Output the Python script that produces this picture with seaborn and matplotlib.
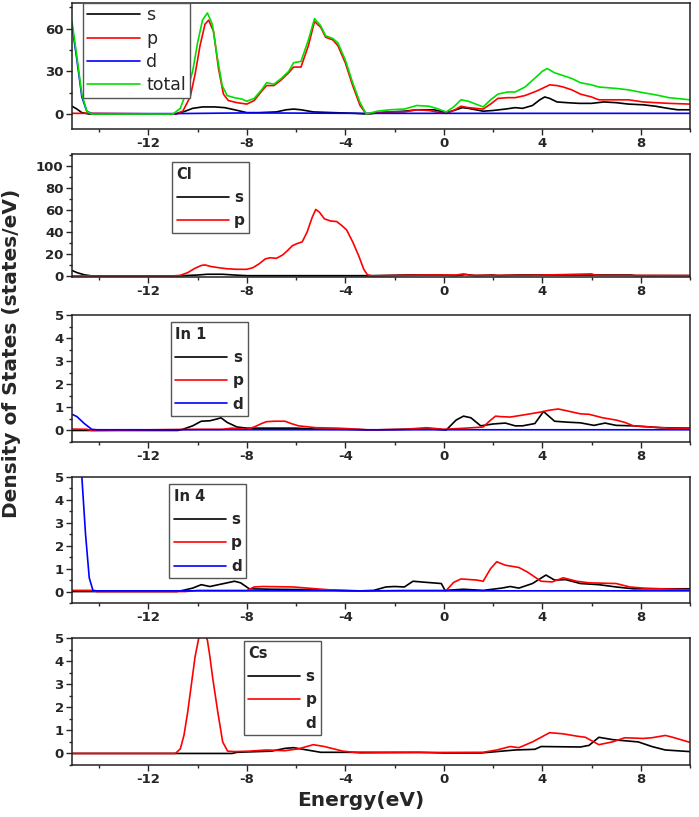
import numpy as np
import pandas as pd
import matplotlib
matplotlib.use('Agg')
import matplotlib.pyplot as plt
import seaborn as sns
from matplotlib.lines import Line2D
from matplotlib.ticker import MultipleLocator, AutoMinorLocator

# ---- data (energy in eV, DOS in states/eV) ----
# panel 1: total cell
s1_e = [-15.1, -14.9, -14.7, -14.4, -10.9, -10.5, -10.2, -9.8, -9.3, -8.9, -8.5, -8.0, -7.5, -6.8, -6.4, -6.1, -5.8, -5.3,
        -4.5, -3.6, -3.1, -2.6, -2.15, -1.6, -1.1, -0.4, 0.1, 0.5, 0.75, 1.0, 1.3, 1.6, 2.0, 2.5, 2.9, 3.2, 3.6, 3.9, 4.1,
        4.3, 4.6, 5.0, 5.5, 6.0, 6.5, 7.0, 7.5, 8.1, 8.6, 9.1, 9.5, 10.0]
s1_v = [5.5, 3.5, 1, 0, 0, 2, 4, 5, 5, 4.5, 3, 1, 1, 1.5, 3, 3.5, 3, 1.5,
        1, 0.5, 0, 1, 1.5, 2, 3, 3, 1, 3, 4.5, 4, 3, 2, 2.5, 3.5, 4.5, 4, 6, 10, 12,
        11, 8.5, 8, 7.5, 7.5, 8.5, 8, 7, 6.5, 5.5, 4, 3, 3]
p1_e = [-15.1, -14.3, -10.9, -10.6, -10.3, -10.1, -9.9, -9.7, -9.55, -9.35, -9.15, -8.95, -8.75, -8.4, -8.0, -7.7, -7.4,
        -7.2, -6.9, -6.6, -6.3, -6.1, -5.8, -5.5, -5.25, -5.0, -4.8, -4.5, -4.3, -4.0, -3.7, -3.4, -3.15, -2.7, -2.2, -1.6,
        -1.1, -0.6, -0.3, 0.1, 0.4, 0.7, 1.0, 1.3, 1.6, 1.9, 2.2, 2.6, 2.9, 3.3, 3.75, 4.0, 4.3, 4.6, 4.85, 5.2, 5.55,
        6.0, 6.3, 7.0, 7.5, 8.1, 8.6, 9.15, 10.0]
p1_v = [0.5, 0.5, 0, 2, 12, 28, 48, 63, 66, 58, 32, 14, 9.5, 8, 7, 9.5, 16,
        20, 20, 24, 29, 33, 33, 48, 65, 61, 54, 52, 48, 36, 20, 6, 0, 1, 1.5, 1.5,
        3, 2.5, 1.5, 0.5, 2.5, 5.5, 4.5, 4, 3.5, 7, 11, 11.5, 11.5, 13, 16, 18, 20.5, 20, 19, 17, 14,
        12, 10, 10, 10, 8.5, 8, 7.5, 7]
d1_e = [-15.1, -14.9, -14.7, -14.5, -14.3, -11.0, -8.0, -3.5, 10.0]
d1_v = [62, 38, 12, 2, 0.3, 0.3, 0.8, 0.5, 0.5]
tot1_e = [-15.1, -14.9, -14.7, -14.5, -14.3, -11.0, -10.7, -10.4, -10.2, -10.0, -9.8, -9.6, -9.4, -9.2, -9.0, -8.8, -8.5,
          -8.2, -8.0, -7.7, -7.4, -7.2, -6.9, -6.6, -6.3, -6.1, -5.8, -5.5, -5.25, -5.0, -4.8, -4.5, -4.3, -4.0, -3.7,
          -3.4, -3.15, -2.7, -2.2, -1.6, -1.1, -0.6, -0.3, 0.1, 0.4, 0.7, 1.0, 1.3, 1.6, 1.9, 2.2, 2.6, 2.9, 3.3, 3.75,
          4.0, 4.2, 4.5, 4.85, 5.2, 5.55, 6.0, 6.3, 7.0, 7.5, 8.1, 8.6, 9.15, 10.0]
tot1_v = [65, 40, 14, 2, 0, 0, 4, 18, 30, 50, 66, 71, 63, 40, 20, 13, 11.5,
          10.5, 9, 11, 17, 22, 21, 25, 30, 36, 37, 52, 67, 62, 55, 53, 50, 38, 22,
          8, 0, 2, 3, 3.5, 6, 5.5, 4, 1.5, 5, 10, 9, 7, 5, 10, 14, 15.5, 15.5, 19, 26,
          30, 32, 29, 27, 25, 22, 20.5, 19, 18, 17, 15, 13.5, 11.5, 10]

# panel 2: Cl
s2_e = [-15.1, -14.9, -14.6, -14.3, -10.8, -10.0, -9.6, -9.0, -8.5, -8.0, -3.0, -1.5, -0.2, 0.5, 0.9, 1.3, 2.0, 2.2,
        3.0, 7.6, 7.8, 10.0]
s2_v = [5, 3, 1, 0, 0, 0.8, 1.5, 1.5, 0.8, 0.2, 0.2, 0.8, 0.8, 0.3, 1.2, 0.3, 0.8, 0.3,
        0.8, 0.8, 0.3, 0.3]
p2_e = [-15.1, -11.0, -10.7, -10.4, -10.1, -9.85, -9.7, -9.45, -9.15, -8.8, -8.4, -8.0, -7.75, -7.5, -7.25, -7.05, -6.8,
        -6.55, -6.35, -6.15, -5.95, -5.75, -5.55, -5.35, -5.2, -5.05, -4.85, -4.6, -4.35, -4.15, -3.95, -3.7, -3.45,
        -3.25, -3.1, -2.9, -1.5, -0.5, 0.5, 0.8, 1.1, 3.5, 6.0, 6.2, 10.0]
p2_v = [0, 0, 0.5, 3, 7, 9.5, 10, 8.5, 7.5, 6.5, 6, 6, 7.5, 11, 15.5, 16.5, 16,
        19, 23, 27.5, 29.5, 31, 40, 53, 60.5, 58, 52, 50, 49.5, 46, 42, 31, 18,
        6, 1, 0, 0.5, 0.8, 0.8, 1.8, 0.5, 0.5, 1.8, 0.5, 0.3]

# panel 3: In 1
s3_e = [-15.1, -10.8, -10.6, -10.2, -9.85, -9.5, -9.2, -9.05, -8.8, -8.4, -8.0, -7.0, -6.0, -5.2, -4.0, -3.0, -1.5,
        -0.5, 0.1, 0.5, 0.8, 1.1, 1.5, 2.0, 2.5, 2.9, 3.2, 3.7, 4.05, 4.5, 5.0, 5.55, 6.1, 6.55, 7.0, 7.7, 8.8, 10.0]
s3_v = [0, 0, 0.05, 0.2, 0.4, 0.42, 0.5, 0.55, 0.35, 0.15, 0.1, 0.1, 0.1, 0.06, 0.05, 0.02, 0.05,
        0.06, 0.02, 0.45, 0.62, 0.55, 0.2, 0.28, 0.32, 0.2, 0.2, 0.3, 0.82, 0.4, 0.36, 0.33, 0.22, 0.32, 0.22, 0.2, 0.12, 0.1]
p3_e = [-15.1, -14.5, -14.3, -10.0, -9.0, -8.6, -8.0, -7.7, -7.4, -7.2, -6.9, -6.45, -6.2, -5.9, -5.2, -4.3, -3.4,
        -3.0, -1.6, -0.7, 0.0, 0.9, 1.6, 1.85, 2.1, 2.3, 2.7, 3.4, 3.95, 4.3, 4.65, 5.0, 5.55, 5.9, 6.45, 7.0, 7.35,
        7.7, 8.4, 9.15, 10.0]
p3_v = [0.06, 0.05, 0.0, 0.05, 0.05, 0.1, 0.05, 0.15, 0.3, 0.38, 0.4, 0.4, 0.3, 0.2, 0.12, 0.1, 0.05,
        0.02, 0.05, 0.12, 0.05, 0.1, 0.15, 0.4, 0.62, 0.6, 0.58, 0.7, 0.8, 0.88, 0.93, 0.85, 0.72, 0.7, 0.55, 0.45, 0.35,
        0.2, 0.15, 0.1, 0.1]
d3_e = [-15.1, -14.9, -14.6, -14.3, -14.1, 10.0]
d3_v = [0.7, 0.6, 0.3, 0.05, 0.03, 0.03]

# panel 4: In 4
s4_e = [-15.1, -10.85, -10.6, -10.2, -9.85, -9.5, -9.15, -8.8, -8.5, -8.25, -7.9, -7.0, -5.2, -3.4, -2.85, -2.35, -2.0,
        -1.6, -1.25, -0.7, -0.1, 0.05, 0.8, 1.6, 2.35, 2.7, 3.05, 3.6, 4.15, 4.5, 4.95, 5.55, 6.3, 7.0, 7.7, 10.0]
s4_v = [0, 0, 0.05, 0.15, 0.3, 0.22, 0.3, 0.38, 0.45, 0.38, 0.12, 0.1, 0.08, 0.03, 0.05, 0.2, 0.22,
        0.2, 0.45, 0.4, 0.35, 0.05, 0.1, 0.05, 0.15, 0.22, 0.15, 0.35, 0.72, 0.5, 0.52, 0.35, 0.3, 0.2, 0.12, 0.12]
p4_e = [-15.1, -14.3, -14.1, -10.5, -10.0, -8.0, -7.7, -7.35, -6.1, -5.2, -4.3, -3.4, -1.6, -0.1, 0.1, 0.4, 0.7, 1.35,
        1.6, 1.9, 2.15, 2.5, 3.05, 3.4, 3.95, 4.4, 4.85, 5.4, 5.9, 7.0, 7.55, 8.1, 8.8, 10.0]
p4_v = [0.05, 0.05, 0.0, 0.0, 0.05, 0.05, 0.2, 0.22, 0.2, 0.12, 0.05, 0.02, 0.05, 0.05, 0.05, 0.4, 0.55, 0.5,
        0.45, 1.0, 1.3, 1.15, 1.05, 0.85, 0.45, 0.42, 0.6, 0.45, 0.38, 0.35, 0.2, 0.15, 0.12, 0.08]
d4_e = [-15.1, -14.7, -14.55, -14.4, -14.25, -14.1, 10.0]
d4_v = [16, 5, 2.5, 0.6, 0.05, 0.03, 0.03]

# panel 5: Cs
s5_e = [-15.1, -8.6, -8.4, -7.0, -6.45, -6.1, -5.55, -5.0, -3.0, -1.0, 0.0, 1.5, 2.35, 2.9, 3.7, 3.95, 5.55, 5.9, 6.3,
        6.85, 7.35, 7.9, 8.45, 9.0, 10.0]
s5_v = [0, 0, 0.05, 0.1, 0.22, 0.25, 0.15, 0.05, 0.05, 0.05, 0.02, 0.02, 0.1, 0.15, 0.18, 0.3, 0.28, 0.35, 0.7,
        0.6, 0.55, 0.5, 0.3, 0.15, 0.08]
p5_e = [-15.1, -10.9, -10.7, -10.55, -10.4, -10.25, -10.1, -9.95, -9.8, -9.7, -9.6, -9.5, -9.39, -9.18, -8.98, -8.78,
        -8.5, -7.9, -7.2, -6.45, -5.9, -5.3, -4.85, -4.1, -3.4, -1.0, 1.6, 2.15, 2.7, 3.05, 3.6, 4.3, 4.85, 5.4, 5.75,
        6.3, 6.85, 7.35, 8.1, 8.45, 9.0, 9.3, 10.0]
p5_v = [0, 0, 0.2, 0.8, 1.8, 3.0, 4.2, 5.0, 5.3, 5.2, 4.9, 4.2, 3.3, 1.8, 0.5, 0.1,
        0.08, 0.1, 0.15, 0.12, 0.2, 0.38, 0.3, 0.1, 0.02, 0.04, 0.05, 0.15, 0.3, 0.25, 0.5, 0.9, 0.85, 0.75, 0.7,
        0.38, 0.5, 0.68, 0.65, 0.68, 0.78, 0.7, 0.48]

colors = {'s': 'black', 'p': '#ff0000', 'd': '#0000ff', 'total': '#00e000'}

panels = [
    dict(title=None, curves=[('s', s1_e, s1_v), ('p', p1_e, p1_v), ('d', d1_e, d1_v), ('total', tot1_e, tot1_v)],
         ylim=(-10.5, 78), major=30, legend=['s', 'p', 'd', 'total'], anchor=(0.018, 1.0)),
    dict(title='Cl', curves=[('s', s2_e, s2_v), ('p', p2_e, p2_v)],
         ylim=(-1, 111), major=20, legend=['s', 'p'], anchor=(0.162, 0.935)),
    dict(title='In 1', curves=[('s', s3_e, s3_v), ('p', p3_e, p3_v), ('d', d3_e, d3_v)],
         ylim=(-0.5, 5), major=1, legend=['s', 'p', 'd'], anchor=(0.160, 0.945)),
    dict(title='In 4', curves=[('s', s4_e, s4_v), ('p', p4_e, p4_v), ('d', d4_e, d4_v)],
         ylim=(-0.5, 5), major=1, legend=['s', 'p', 'd'], anchor=(0.157, 0.944)),
    dict(title='Cs', curves=[('s', s5_e, s5_v), ('p', p5_e, p5_v)],
         ylim=(-0.5, 5), major=1, legend=['s', 'p', 'd'], anchor=(0.278, 0.976)),
]

sns.set_style('ticks')
plt.rcParams['font.family'] = ['DejaVu Sans']
plt.rcParams['axes.unicode_minus'] = False

fig = plt.figure(figsize=(6.99, 8.17), dpi=100)
W, H = 699, 817
# axes boxes in pixels: (top, bottom)
boxes = [(3, 129), (154, 277), (315, 442), (477, 603), (638, 765)]
left, right = 72, 690

for (top, bot), pan in zip(boxes, panels):
    ax = fig.add_axes([left / W, 1 - bot / H, (right - left) / W, (bot - top) / H])
    for name, e, v in pan['curves']:
        df = pd.DataFrame({'E': e, 'DOS': v})
        sns.lineplot(data=df, x='E', y='DOS', ax=ax, color=colors[name], lw=1.2,
                     estimator=None, sort=False, legend=False)
    ax.set_xlim(-15.1, 10)
    ax.set_ylim(*pan['ylim'])
    ax.set_xlabel('')
    ax.set_ylabel('')
    ax.xaxis.set_major_locator(MultipleLocator(4))
    ax.xaxis.set_minor_locator(AutoMinorLocator(2))
    ax.yaxis.set_major_locator(MultipleLocator(pan['major']))
    ax.yaxis.set_minor_locator(AutoMinorLocator(2))
    ax.tick_params(which='major', direction='out', length=4, width=1, labelsize=9.5, pad=2)
    ax.tick_params(which='minor', direction='out', length=2.5, width=1)
    for lab in ax.get_xticklabels() + ax.get_yticklabels():
        lab.set_fontweight('bold')
    for sp in ax.spines.values():
        sp.set_linewidth(1.1)
        sp.set_color('#222222')

    # legend
    handles = []
    for name in pan['legend']:
        if pan['title'] == 'Cs' and name == 'd':
            handles.append(Line2D([], [], color='none'))
        else:
            handles.append(Line2D([], [], color=colors[name], lw=1.2))
    if pan['title'] is None:
        leg = ax.legend(handles, pan['legend'], loc='upper left', bbox_to_anchor=pan['anchor'],
                        borderaxespad=0, fontsize=12.5, handlelength=3.1, handletextpad=0.35,
                        labelspacing=0.3, borderpad=0.2, fancybox=False, framealpha=1)
    else:
        leg = ax.legend(handles, pan['legend'], loc='upper left', bbox_to_anchor=pan['anchor'],
                        borderaxespad=0, title=pan['title'], alignment='left',
                        title_fontproperties={'weight': 'bold', 'size': 10.5},
                        prop={'weight': 'bold', 'size': 11}, handlelength=3.4, handletextpad=0.35,
                        labelspacing=0.55, borderpad=0.3, fancybox=False, framealpha=1)
    leg.get_frame().set_edgecolor('#555555')
    leg.get_frame().set_linewidth(1)

fig.text(12 / W, 1 - 353 / H, 'Density of States (states/eV)', rotation=90, ha='center', va='center',
         fontsize=14.5, fontweight='bold')
fig.text(361 / W, 1 - 800 / H, 'Energy(eV)', ha='center', va='center', fontsize=14.5, fontweight='bold')

fig.savefig('out.png', dpi=100)
